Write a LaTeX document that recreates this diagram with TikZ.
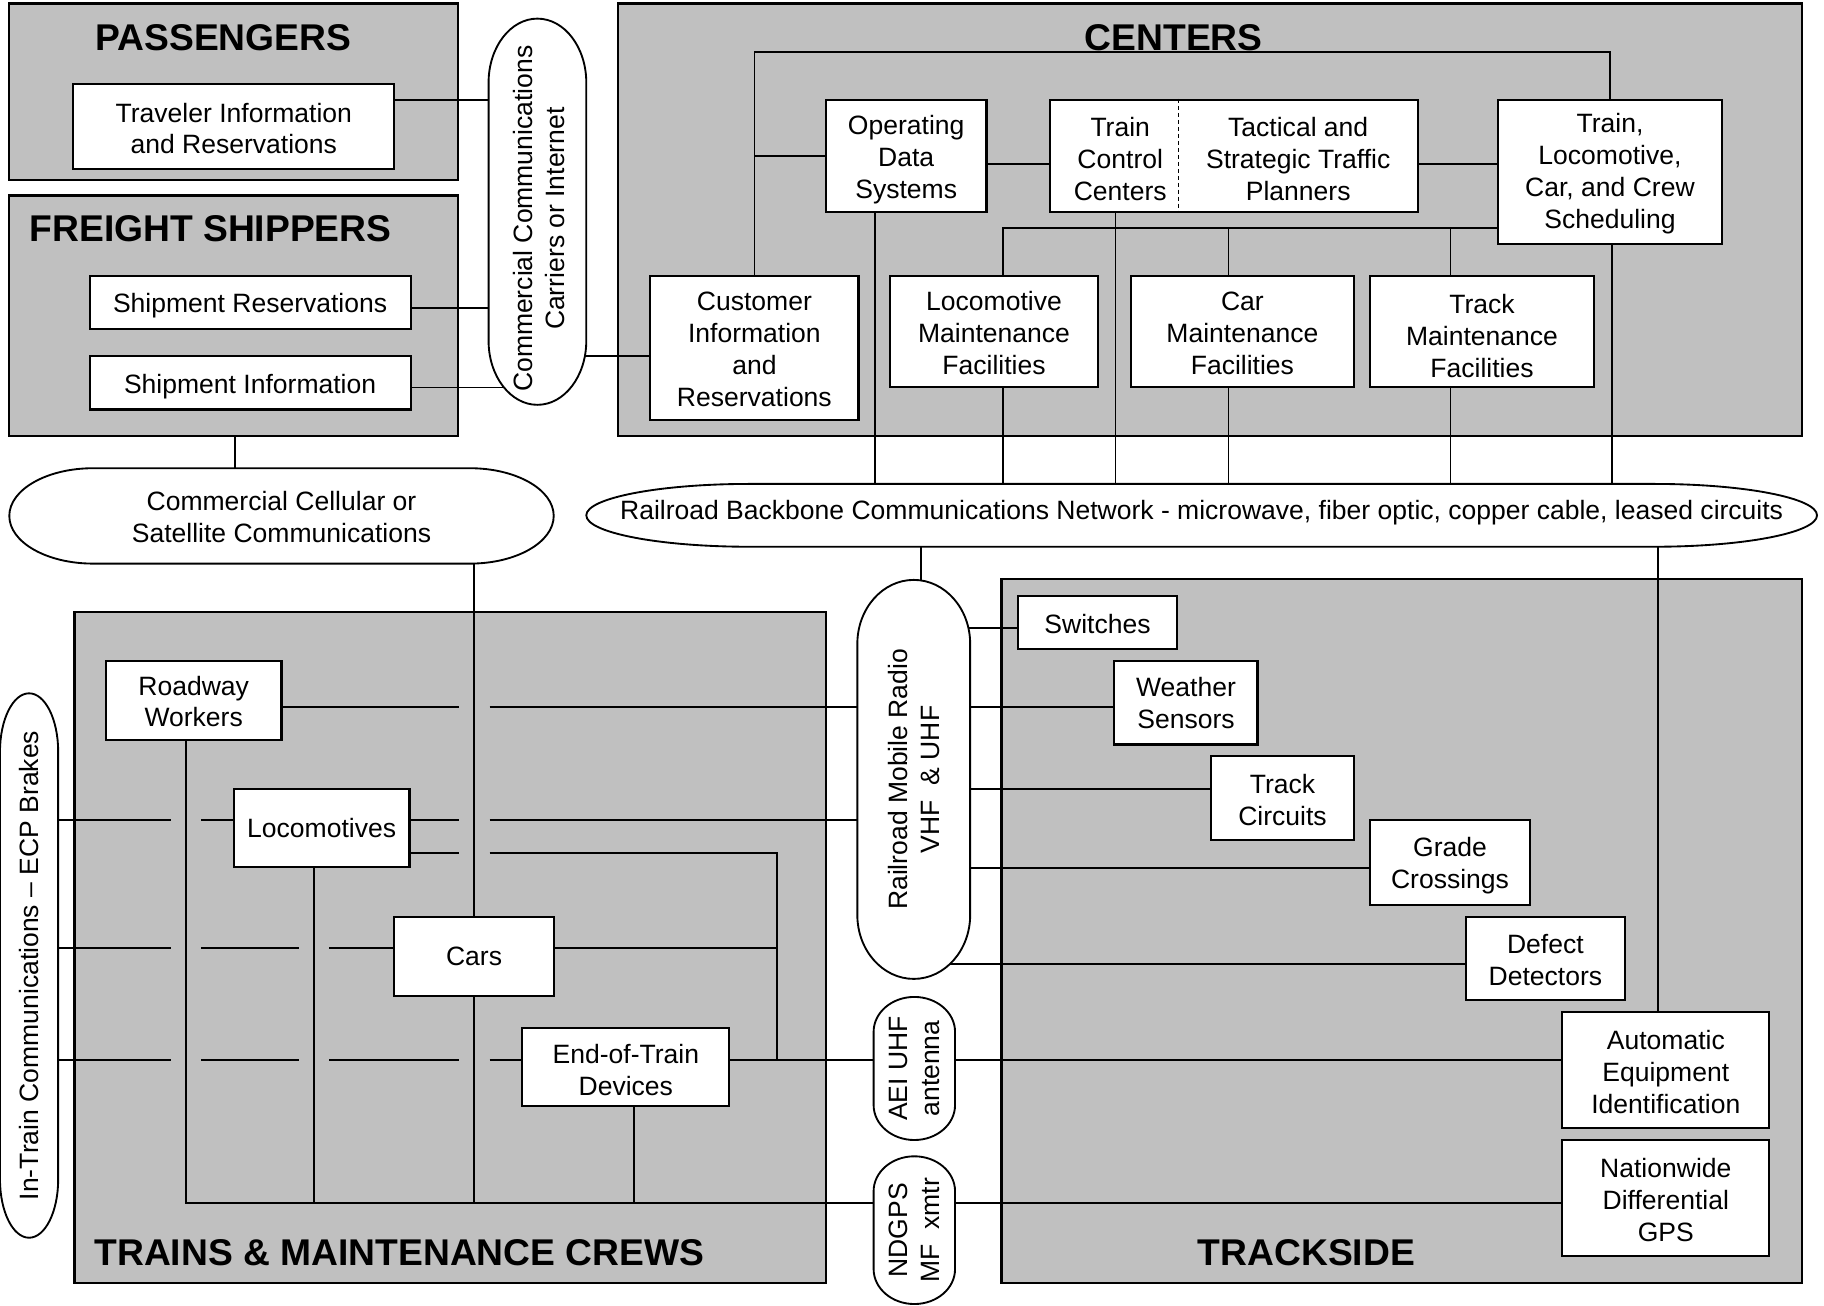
\documentclass[tikz,border=0pt]{standalone}
\usepackage{fontspec}
\setmainfont{Liberation Sans}
\usetikzlibrary{calc}
\pgfdeclarelayer{panels}
\pgfdeclarelayer{wires}
\pgfdeclarelayer{shapes}
\pgfsetlayers{panels,wires,shapes,main}
\definecolor{panelgray}{RGB}{192,192,192}
\newcommand{\bodyfont}{\fontsize{22.8}{27.4}\selectfont}
\newcommand{\titlefont}{\fontsize{32}{38}\selectfont\bfseries}
\tikzset{
  panel/.style={draw, fill=panelgray, line width=2pt, inner sep=0pt},
  box/.style={draw, fill=white, line width=1.8pt, inner sep=0pt},
  txt/.style 2 args={label={[lbl, yshift=#2]center:{#1}}},
  wire/.style={line width=1.5pt},
  shapeline/.style={draw, fill=white, line width=1.6pt},
  lbl/.style={align=center, font=\bodyfont, inner sep=0pt},
  rlbl/.style={lbl, rotate=90},
  ttl/.style={font=\titlefont, inner sep=0pt},
  hold/.style={inner sep=0pt, outer sep=0pt},
}
\newcommand{\stadium}[3]{%
  \begin{pgfonlayer}{shapes}
  \draw[shapeline] ($(#1.north west)+(#2,0)$) -- ($(#1.north east)+(-#2,0)$)
    arc[start angle=90,end angle=0,x radius=#2,y radius=#3]
    -- ($(#1.south east)+(0,#3)$)
    arc[start angle=0,end angle=-90,x radius=#2,y radius=#3]
    -- ($(#1.south west)+(#2,0)$)
    arc[start angle=270,end angle=180,x radius=#2,y radius=#3]
    -- ($(#1.north west)+(0,-#3)$)
    arc[start angle=180,end angle=90,x radius=#2,y radius=#3] -- cycle;
  \end{pgfonlayer}}
\begin{document}
\begin{tikzpicture}[x=1pt,y=1pt]
\useasboundingbox (0,0) rectangle (1568,-1122);
% panels
\begin{pgfonlayer}{panels}
\node[panel, minimum width=386, minimum height=152] (pass) at (201,-79) {};
\node[panel, minimum width=386, minimum height=207] (frt) at (201,-271.5) {};
\node[panel, minimum width=1018, minimum height=372] (cent) at (1040,-189) {};
\node[panel, minimum width=646, minimum height=577] (trn) at (387,-814.5) {};
\node[panel, minimum width=688, minimum height=605] (trk) at (1205,-800.5) {};
\end{pgfonlayer}
\node[ttl] at (192,-32) {PASSENGERS};
\node[ttl] at (181,-197) {FREIGHT SHIPPERS};
\node[ttl] at (1009,-32) {CENTERS};
\node[ttl, anchor=west] at (81,-1077) {TRAINS \& MAINTENANCE CREWS};
\node[ttl] at (1123,-1077) {TRACKSIDE};
% boxes
\node[box, txt={Traveler Information\\and Reservations}{-2pt}, minimum width=276, minimum height=73] (trav) at (201,-108.5) {};
\node[box, txt={Shipment Reservations}{-3pt}, minimum width=276, minimum height=46] (shres) at (215,-260) {};
\node[box, txt={Shipment Information}{-3pt}, minimum width=276, minimum height=46] (shinf) at (215,-329) {};
\node[box, txt={Operating\\Data\\Systems}{-3.5pt}, minimum width=138, minimum height=96] (ods) at (779,-134) {};
\node[box, minimum width=316, minimum height=96] (tcc) at (1061,-134) {};
\node[lbl] at (963,-137) {Train\\Control\\Centers};
\node[lbl] at (1116,-137) {Tactical and\\Strategic Traffic\\Planners};
\draw[dashed, dash pattern=on 3.5pt off 2.5pt, line width=1.2pt] (1013,0 |- tcc.north) -- (1013,0 |- tcc.south);
\node[box, txt={Train,\\Locomotive,\\Car, and Crew\\Scheduling}{-1.5pt}, minimum width=192, minimum height=124] (tlc) at (1384,-148) {};
\node[box, txt={Customer\\Information\\and\\Reservations}{-1.5pt}, minimum width=179, minimum height=124] (cust) at (648.5,-299) {};
\node[box, txt={Locomotive\\Maintenance\\Facilities}{-1.5pt}, minimum width=179, minimum height=96] (lmf) at (854.5,-285) {};
\node[box, txt={Car\\Maintenance\\Facilities}{-1.5pt}, minimum width=192, minimum height=96] (cmf) at (1068,-285) {};
\node[box, txt={Track\\Maintenance\\Facilities}{-4pt}, minimum width=192, minimum height=96] (tmf) at (1274,-285) {};
\node[box, txt={Roadway\\Workers}{-1pt}, minimum width=151, minimum height=68] (rw) at (166.5,-602) {};
\node[box, txt={Locomotives}{0pt}, minimum width=151, minimum height=67] (loco) at (276.5,-711.5) {};
\node[box, txt={Cars}{0pt}, minimum width=137, minimum height=68] (cars) at (407.5,-822) {};
\node[box, txt={End-of-Train\\Devices}{-2pt}, minimum width=178, minimum height=67] (eot) at (538,-917.5) {};
\node[box, txt={Switches}{-1pt}, minimum width=137, minimum height=46] (sw) at (943.5,-535) {};
\node[box, txt={Weather\\Sensors}{-0.5pt}, minimum width=123, minimum height=72] (ws) at (1019.5,-604) {};
\node[box, txt={Track\\Circuits}{-1.5pt}, minimum width=123, minimum height=72] (tc) at (1102.5,-686) {};
\node[box, txt={Grade\\Crossings}{-3pt}, minimum width=137, minimum height=73] (gc) at (1246.5,-741.5) {};
\node[box, txt={Defect\\Detectors}{-1pt}, minimum width=137, minimum height=72] (dd) at (1328.5,-824) {};
\node[box, txt={Automatic\\Equipment\\Identification}{-1.5pt}, minimum width=178, minimum height=100] (aei) at (1432,-920) {};
\node[box, txt={Nationwide\\Differential\\GPS}{-1.5pt}, minimum width=178, minimum height=100] (ndgps) at (1432,-1030) {};
% stadium shapes
\node[hold, minimum width=84, minimum height=332] (ccc) at (462,-182) {};
\stadium{ccc}{42}{55}
\node[rlbl] at (463,-188) {Commercial Communications\\Carriers or Internet};
\node[hold, minimum width=468, minimum height=82] (ccs) at (242,-443.5) {};
\stadium{ccs}{72}{41}
\node[lbl] at (242,-444.5) {Commercial Cellular or\\Satellite Communications};
\node[hold, minimum width=1058, minimum height=54] (bb) at (1033,-443) {};
\stadium{bb}{140}{27}
\node[lbl] at (1033,-441) {Railroad Backbone Communications Network - microwave, fiber optic, copper cable, leased circuits};
\node[hold, minimum width=97, minimum height=343] (rmr) at (785.5,-670) {};
\stadium{rmr}{48.5}{55}
\node[rlbl] at (rmr) {Railroad Mobile Radio\\VHF\ \ \& UHF};
\node[hold, minimum width=70, minimum height=123] (aeia) at (786,-918.5) {};
\stadium{aeia}{35}{30}
\node[rlbl] at (aeia) {AEI UHF\\antenna};
\node[hold, minimum width=70, minimum height=127] (ndx) at (786,-1057.5) {};
\stadium{ndx}{35}{30}
\node[rlbl] at (ndx) {NDGPS\\MF\ \ xmtr};
\node[hold, minimum width=50, minimum height=468] (itc) at (25,-830) {};
\stadium{itc}{25}{50}
\node[rlbl] at (itc) {In-Train Communications -- ECP Brakes};
% wires
\begin{pgfonlayer}{wires}
\draw[wire] (trav.east |- 0,-86) -- (ccc |- 0,-86);
\draw[wire] (shres.east |- 0,-265) -- (ccc |- 0,-265);
\draw[wire] (shinf.east |- 0,-333) -- (ccc |- 0,-333);
\draw[wire] (ccc |- 0,-306) -- (cust.west |- 0,-306);
\draw[wire] (frt.south -| 202,0) -- (ccs -| 202,0);
\draw[wire] (cust.north) -- (cust.north |- 0,-45) -- (tlc.north |- 0,-45) -- (tlc.north);
\draw[wire] (ods.west) -- (cust.north |- ods.west);
\draw[wire] (ods.east |- 0,-141) -- (tcc.west |- 0,-141);
\draw[wire] (tcc.east |- 0,-141) -- (tlc.west |- 0,-141);
\draw[wire] (lmf.north -| 862,0) -- (862,-196) -- (tlc.west |- 0,-196);
\draw[wire] (cmf.north -| 1056,0) -- (1056,-196);
\draw[wire] (tmf.north -| 1247,0) -- (1247,-196);
\foreach \x/\n in {752/ods, 862/lmf, 959/tcc, 1056/cmf, 1247/tmf, 1386/tlc}
  \draw[wire] (\n.south -| \x,0) -- (bb.north -| \x,0);
\draw[wire] (bb.south -| 792,0) -- (rmr -| 792,0);
\draw[wire] (bb.south -| 1425,0) -- (aei.north -| 1425,0);
\draw[wire] (ccs.south -| cars.north) -- (cars.north);
\draw[wire] (cars.south) -- (cars.south |- 0,-1034);
% trains rows
\draw[wire] (rw.east |- 0,-608) -- (395,-608);
\draw[wire] (421,-608) -- (rmr |- 0,-608);
\draw[wire] (itc |- 0,-705) -- (147,-705);
\draw[wire] (173,-705) -- (loco.west |- 0,-705);
\draw[wire] (loco.east |- 0,-705) -- (395,-705);
\draw[wire] (421,-705) -- (rmr |- 0,-705);
\draw[wire] (loco.east |- 0,-733) -- (395,-733);
\draw[wire] (421,-733) -- (668,-733) -- (668,-911);
\draw[wire] (itc |- 0,-815) -- (147,-815);
\draw[wire] (173,-815) -- (257,-815);
\draw[wire] (283,-815) -- (cars.west |- 0,-815);
\draw[wire] (cars.east |- 0,-815) -- (668,-815);
\draw[wire] (itc |- 0,-911) -- (147,-911);
\draw[wire] (173,-911) -- (257,-911);
\draw[wire] (283,-911) -- (395,-911);
\draw[wire] (421,-911) -- (eot.west |- 0,-911);
\draw[wire] (eot.east |- 0,-911) -- (aeia |- 0,-911);
\draw[wire] (aeia |- 0,-911) -- (aei.west |- 0,-911);
\draw[wire] (rw.south -| 160,0) -- (160,-1034) -- (ndx |- 0,-1034);
\draw[wire] (ndx |- 0,-1034) -- (ndgps.west |- 0,-1034);
\draw[wire] (loco.south -| 270,0) -- (270,-1034);
\draw[wire] (eot.south -| 545,0) -- (545,-1034);
% trackside rows
\draw[wire] (rmr |- 0,-540) -- (sw.west |- 0,-540);
\draw[wire] (rmr |- 0,-608) -- (ws.west |- 0,-608);
\draw[wire] (rmr |- 0,-678) -- (tc.west |- 0,-678);
\draw[wire] (rmr |- 0,-746) -- (gc.west |- 0,-746);
\draw[wire] (rmr |- 0,-829) -- (dd.west |- 0,-829);
\end{pgfonlayer}
\end{tikzpicture}
\end{document}
